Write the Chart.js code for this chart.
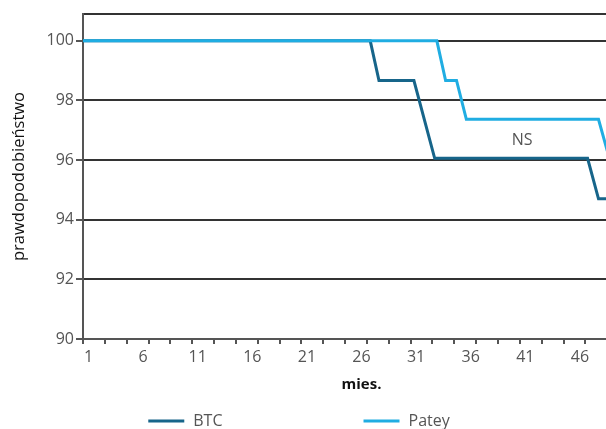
<!DOCTYPE html>
<html><head><meta charset="utf-8">
<script src="https://cdn.jsdelivr.net/npm/chart.js@4"></script>
<style>
html,body{margin:0;padding:0;background:#fff;overflow:hidden;width:606px;height:429px;}
#wrap{width:606px;height:429px;overflow:hidden;position:relative;}
canvas{display:block;}
</style></head><body>
<div id="wrap"><canvas id="c" width="640" height="429"></canvas></div>
<script>
// ---- data ----
const seriesNames = ['BTC', 'Patey'];
const btcMonths = [0, 26.3, 27.1, 30.3, 32.2, 46.2, 47.2, 51];
const btcSurvival = [100, 100, 98.67, 98.67, 96.06, 96.06, 94.7, 94.7];
const pateyMonths = [0, 32.4, 33.2, 34.2, 35.1, 47.2, 48.2, 51];
const pateySurvival = [100, 100, 98.67, 98.67, 97.37, 97.37, 96.05, 96.05];
const xTickLabels = ['1', '6', '11', '16', '21', '26', '31', '36', '41', '46'];
const yTickValues = [90, 92, 94, 96, 98, 100];
const nsAnnotation = { text: 'NS', month: 40.2, value: 96.65 };
const xTitle = 'mies.';
const yTitle = 'prawdopodobieństwo';

// ---- styles ----
const X_MIN = 0, X_MAX = 51, Y_MIN = 90, Y_MAX = 100.9;
const AXIS = '#555555', GRID = '#333333', TEXT = '#555555';
const COLORS = ['#17658a', '#20ade2'];
const FONT = '"Open Sans", "DejaVu Sans", sans-serif';

const annotationPlugin = {
  id: 'nsLabel',
  afterDatasetsDraw(chart) {
    const { ctx, scales } = chart;
    ctx.save();
    ctx.font = '16px ' + FONT;
    ctx.fillStyle = TEXT;
    ctx.textAlign = 'center';
    ctx.textBaseline = 'middle';
    ctx.fillText(nsAnnotation.text, scales.x.getPixelForValue(nsAnnotation.month), scales.y.getPixelForValue(nsAnnotation.value));
    ctx.restore();
  }
};

const LEG_LINE = 36, LEG_TEXT_GAP = 9, LEG_ITEM_GAP = 141, LEG_CENTER_X = 299, LEG_Y = 421;
const legendPlugin = {
  id: 'customLegend',
  afterDraw(chart) {
    const ctx = chart.ctx;
    ctx.save();
    ctx.font = '16px ' + FONT;
    const items = chart.data.datasets.map(ds => ({
      label: ds.label, color: ds.borderColor,
      w: LEG_LINE + LEG_TEXT_GAP + ctx.measureText(ds.label).width
    }));
    const total = items.reduce((a, it) => a + it.w, 0) + LEG_ITEM_GAP * (items.length - 1);
    let x = LEG_CENTER_X - total / 2;
    items.forEach(it => {
      ctx.strokeStyle = it.color;
      ctx.lineWidth = 3;
      ctx.beginPath();
      ctx.moveTo(x, LEG_Y);
      ctx.lineTo(x + LEG_LINE, LEG_Y);
      ctx.stroke();
      ctx.fillStyle = TEXT;
      ctx.textAlign = 'left';
      ctx.textBaseline = 'middle';
      ctx.fillText(it.label, x + LEG_LINE + LEG_TEXT_GAP, LEG_Y);
      x += it.w + LEG_ITEM_GAP;
    });
    ctx.restore();
  }
};

const series = [
  { months: btcMonths, values: btcSurvival },
  { months: pateyMonths, values: pateySurvival }
];

new Chart(document.getElementById('c'), {
  type: 'line',
  data: {
    datasets: series.map((s, i) => ({
      label: seriesNames[i],
      data: s.months.map((m, j) => ({ x: m, y: s.values[j] })),
      borderColor: COLORS[i],
      backgroundColor: COLORS[i],
      borderWidth: 3,
      pointRadius: 0,
      tension: 0,
      fill: false,
      order: i === 0 ? 1 : 0
    }))
  },
  options: {
    responsive: false,
    animation: false,
    layout: { padding: { top: 14, bottom: 28, left: 0, right: 0 } },
    plugins: { legend: { display: false }, tooltip: { enabled: false } },
    scales: {
      x: {
        type: 'linear',
        min: X_MIN, max: X_MAX,
        afterBuildTicks: s => {
          const vals = [];
          for (let v = X_MIN; v <= X_MAX; v += 2) vals.push(v);
          xTickLabels.forEach(l => vals.push(Number(l) - 0.5));
          vals.sort((a, b) => a - b);
          s.ticks = vals.map(v => ({ value: v }));
        },
        afterFit: s => { s.height = 62; },
        ticks: {
          autoSkip: false,
          maxRotation: 0,
          padding: 4,
          color: TEXT,
          font: { family: FONT, size: 16 },
          callback: v => { const l = xTickLabels.find(t => Number(t) - 0.5 === v); return l || ''; }
        },
        grid: {
          drawOnChartArea: false,
          drawTicks: true,
          tickLength: 5,
          lineWidth: 2,
          tickColor: c => (c.tick && Number.isInteger(c.tick.value) && c.tick.value % 2 === 0) ? AXIS : 'rgba(0,0,0,0)'
        },
        border: { display: true, color: AXIS, width: 2 },
        title: {
          display: true, text: xTitle, color: '#111',
          font: { family: FONT, size: 15, weight: 'bold' },
          padding: { top: 0, bottom: 7 }
        }
      },
      y: {
        min: Y_MIN, max: Y_MAX,
        afterBuildTicks: s => { s.ticks = [...yTickValues, Y_MAX].map(v => ({ value: v })); },
        afterFit: s => { s.width = 83; },
        ticks: {
          padding: 2,
          color: TEXT,
          font: { family: FONT, size: 16 },
          callback: v => yTickValues.includes(v) ? String(v) : ''
        },
        grid: {
          lineWidth: 2,
          tickLength: 7,
          color: c => (c.tick && c.tick.value === Y_MIN) ? AXIS : GRID,
          tickColor: c => (c.tick && yTickValues.includes(c.tick.value)) ? AXIS : 'rgba(0,0,0,0)'
        },
        border: { display: true, color: AXIS, width: 2 },
        title: {
          display: true, text: yTitle, color: '#111',
          font: { family: FONT, size: 16.5 },
          padding: { top: 9, bottom: 0 }
        }
      }
    }
  },
  plugins: [annotationPlugin, legendPlugin]
});
</script>
</body></html>
